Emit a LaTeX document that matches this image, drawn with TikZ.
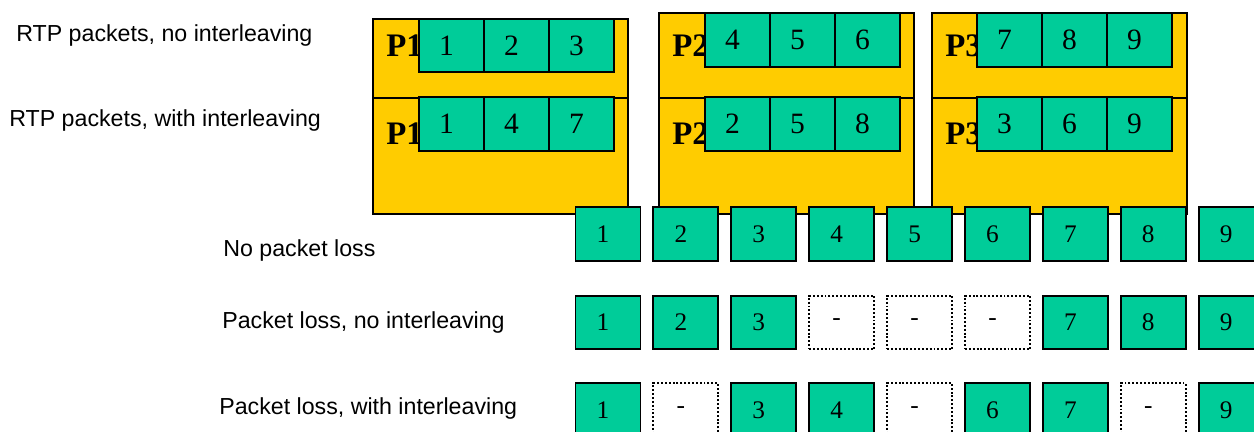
\documentclass[tikz,border=0pt]{standalone}
\usepackage{fontspec}
\setmainfont{Liberation Serif}
\newfontfamily\lblfont{Liberation Sans}
\usetikzlibrary{positioning}
\definecolor{pktyellow}{HTML}{FFCC00}
\definecolor{cellgreen}{HTML}{00CC99}
\tikzset{
  pkt/.style={rectangle,draw,line width=1.1pt,fill=pktyellow,anchor=north west,inner sep=0pt,minimum width=5.1cm},
  cell/.style={rectangle,draw,line width=1.1pt,fill=cellgreen,inner sep=0pt,outer sep=0pt,minimum width=1.3cm,minimum height=1.07cm,font=\fontsize{14.4}{16}\selectfont,execute at end node={\hspace{0.2cm}}},
  topcell/.style={cell,font=\fontsize{16.8}{18}\selectfont},
  lost/.style={cell,fill=white,dash pattern=on 1.1pt off 1.1pt},
  plbl/.style={anchor=base west,inner sep=0pt,font=\fontsize{18.7}{20}\selectfont\bfseries},
  lbl/.style={anchor=base west,inner sep=0pt,font=\lblfont\fontsize{13.2}{15}\selectfont}
}

\begin{document}
\begin{tikzpicture}[x=0.02cm,y=-0.02cm]
    \useasboundingbox (0,0) rectangle (1254,432);
    \clip (0,0) rectangle (1254,432);

    % Row labels
    \node[lbl] (lrtpseq) at (16,42) {RTP packets, no interleaving};
    \node[lbl] (lrtpilv) at (9,127) {RTP packets, with interleaving};
    \node[lbl] (lnone) at (223,256) {No packet loss};
    \node[lbl] (llossseq) at (222,328) {Packet loss, no interleaving};
    \node[lbl] (llossilv) at (219,414) {Packet loss, with interleaving};

    % RTP packets (yellow)
    \foreach \n/\x/\y in {1/372/18, 2/658/12, 3/931/12} {
        \node[pkt,minimum height=(97-\y)*0.02cm] (ptop\n) at (\x,\y) {};
        \node[pkt,minimum height=2.32cm] (pbot\n) at (\x,97) {};
        \node[plbl] (pseq\n) at (\x+14,57) {P\n};
        \node[plbl] (pilv\n) at (\x+14,145) {P\n};
    }

    % Frames inside each packet
    \foreach \n/\x/\y in {1/451.5/45.5, 2/737.5/40, 3/1009.5/40} {
        \foreach \k in {1,2,3} {
            \pgfmathtruncatemacro\seq{3*(\n-1)+\k}
            \pgfmathtruncatemacro\ilv{\n+3*(\k-1)}
            \node[topcell] (seq\n\k) at (\x+65*\k-65,\y) {\seq};
            \node[topcell] (ilv\n\k) at (\x+65*\k-65,124) {\ilv};
        }
    }

    % Received frames, no loss
    \foreach \k in {1,...,9} {
        \node[cell] (ok\k) at (530.1+77.9*\k,234) {\k};
    }

    % Received frames, loss without interleaving
    \foreach \k/\v/\s in {1/1/cell, 2/2/cell, 3/3/cell, 4/-/lost, 5/-/lost, 6/-/lost, 7/7/cell, 8/8/cell, 9/9/cell} {
        \node[\s] (rseq\k) at (530.1+77.9*\k,322.5) {\v};
    }

    % Received frames, loss with interleaving
    \foreach \k/\v/\s in {1/1/cell, 2/-/lost, 3/3/cell, 4/4/cell, 5/-/lost, 6/6/cell, 7/7/cell, 8/-/lost, 9/9/cell} {
        \node[\s] (rilv\k) at (530.1+77.9*\k,410) {\v};
    }

\end{tikzpicture}
\end{document}
